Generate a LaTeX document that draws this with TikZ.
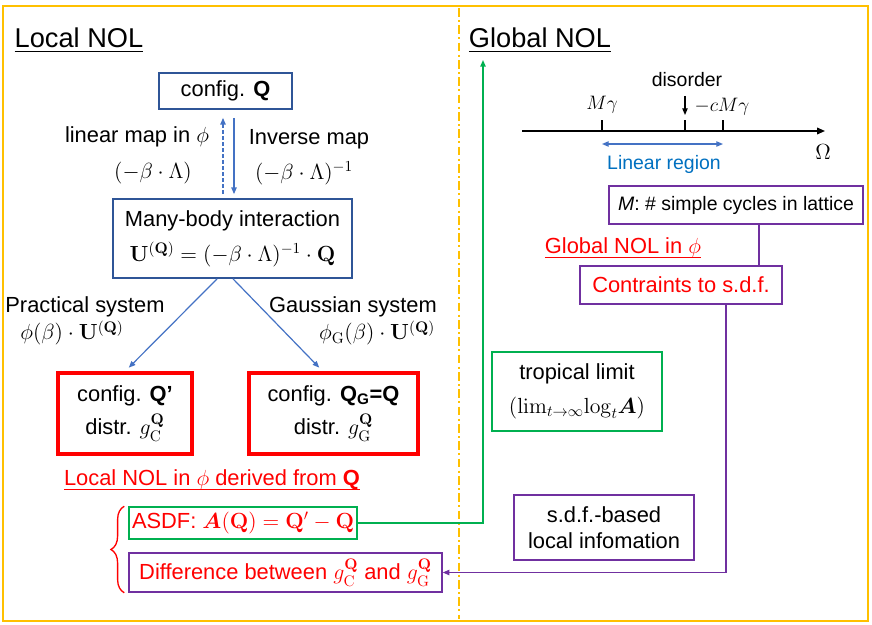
\RequirePackage{fix-cm}
\documentclass[tikz,border=0pt]{standalone}
\usepackage{amsmath}
\usepackage[no-math]{fontspec}
\setmainfont{Liberation Sans}
\definecolor{frameyellow}{RGB}{255,192,0}
\definecolor{boxblue}{RGB}{47,85,151}
\definecolor{arrowblue}{RGB}{68,114,196}
\definecolor{textblue}{RGB}{0,112,192}
\definecolor{pptred}{RGB}{255,0,0}
\definecolor{pptgreen}{RGB}{0,176,80}
\definecolor{pptpurple}{RGB}{112,48,160}
\usetikzlibrary{arrows.meta}
\usetikzlibrary{decorations.pathreplacing,calc}
% underline with a rule as thick as the slide's
\newcommand\ulined[1]{\setbox0\hbox{#1}\rlap{\rule[-3pt]{\wd0}{0.9pt}}\box0}

\begin{document}
\begin{tikzpicture}[x=0.75pt,y=0.75pt,yscale=-1,xscale=1,
	every node/.style={font=\fontsize{16.4}{19}\selectfont},
	sectiontitle/.style={font=\fontsize{20.4}{24}\selectfont},
	smalltext/.style={font=\fontsize{14.6}{17}\selectfont},
	bluebox/.style={draw=boxblue, line width=1.3pt, align=center, inner sep=0pt},
	redbox/.style={draw=pptred, line width=2.3pt, align=center, inner sep=0pt, font=\fontsize{16.4}{24.75}\selectfont},
	greenbox/.style={draw=pptgreen, line width=1.1pt, align=center, inner sep=0pt},
	purplebox/.style={draw=pptpurple, line width=1.1pt, align=center, inner sep=0pt},
	bluearrow/.style={draw=arrowblue, line width=0.9pt, -{Triangle[length=5pt,width=4pt]}},
	greenline/.style={draw=pptgreen, line width=1.1pt},
	purpleline/.style={draw=pptpurple, line width=1.1pt},
	]
	\useasboundingbox (0,0) rectangle (872,625);
	
	%Shape: Rectangle (frame)
	\draw [frameyellow, line width=2pt] (3,6) rectangle (868,621);
	%Straight Lines (divider)
	\draw [frameyellow, line width=1.5pt, dash pattern={on 6.5pt off 2.5pt on 1.5pt off 2.5pt}] (459,8) -- (459,619);
	
	% Text Node
	\node [sectiontitle] (loctitle) at (79,40) {\ulined{Local NOL}};
	% Text Node
	\node [sectiontitle] (globtitle) at (540,40) {\ulined{Global NOL}};
	
	%Shape: Rectangle
	\node [bluebox, minimum width=99.75pt, minimum height=27pt] (cfg) at (225.5,91) {config. \textbf{Q}};
	%Shape: Rectangle
	\node [bluebox, minimum width=179.25pt, minimum height=59.25pt, font=\fontsize{16.4}{26}\selectfont] (mbi) at (232.5,238.5) {Many-body interaction\\ $\mathbf{U}^{(\mathbf{Q})}=(-\beta\cdot\Lambda)^{-1}\cdot\mathbf{Q}$};
	
	%Straight Lines
	\coordinate (dashx) at (223,0);
	\coordinate (solidx) at (234,0);
	\draw [bluearrow, dash pattern={on 3pt off 1.5pt}, shorten <=3pt, shorten >=6pt] (dashx |- mbi.north) -- (dashx |- cfg.south);
	\draw [bluearrow, shorten <=6pt, shorten >=3pt] (solidx |- cfg.south) -- (solidx |- mbi.north);
	
	% Text Node
	\node (lmap) at (137,137) {linear map in $\phi$};
	% Text Node
	\node (lmat) at (153,173) {$(-\beta\cdot\Lambda)$};
	% Text Node
	\node (imap) at (309,139) {Inverse map};
	% Text Node
	\node (imat) at (304,173) {$(-\beta\cdot\Lambda)^{-1}$};
	% Text Node
	\node (prac) at (85,307) {Practical system};
	% Text Node
	\node (pracf) at (72,333) {$\phi(\beta)\cdot\mathbf{U}^{(\mathbf{Q})}$};
	% Text Node
	\node (gaus) at (353,307) {Gaussian system};
	% Text Node
	\node (gausf) at (377,333) {$\phi_{\mathrm{G}}(\beta)\cdot\mathbf{U}^{(\mathbf{Q})}$};
	
	%Shape: Rectangle
	\node [redbox, minimum width=100.5pt, minimum height=60.75pt] (cfgp) at (125,413.5) {config. \textbf{Q'}\\ distr. $g_{\mathrm{C}}^{\mathbf{Q}}$};
	%Shape: Rectangle
	\node [redbox, minimum width=126.75pt, minimum height=60.75pt] (cfgg) at (333.5,413.5) {config. \textbf{Q\textsubscript{G}=Q}\\ distr. $g_{\mathrm{G}}^{\mathbf{Q}}$};
	
	%Straight Lines
	\draw [bluearrow, shorten >=4pt] ([xshift=-11.6pt]mbi.south) -- (cfgp.north);
	\draw [bluearrow, shorten >=4pt] ([xshift=0.4pt]mbi.south) -- ([xshift=-7.9pt]cfgg.north);
	
	% Text Node
	\node [color=pptred] (locnol) at (212,480) {\ulined{Local NOL in $\phi$ derived from \textbf{Q}}};
	
	%Shape: Rectangle
	\node [greenbox, text=pptred, minimum width=171pt, minimum height=24pt] (asdf) at (243,523) {ASDF: $\boldsymbol{A}(\mathbf{Q})=\mathbf{Q}'-\mathbf{Q}$};
	%Shape: Rectangle
	\node [purplebox, text=pptred, minimum width=234.75pt, minimum height=29.25pt] (diff) at (285.5,572.5) {Difference between $g_{\mathrm{C}}^{\mathbf{Q}}$ and $g_{\mathrm{G}}^{\mathbf{Q}}$};
	%Shape: Brace
	\draw [pptred, line width=1pt, decorate, decoration={brace, amplitude=10pt}] ([xshift=-3pt]diff.south west) -- ([xshift=-3pt]asdf.north west);
	
	%Straight Lines
	\coordinate (gtop) at (483,60);
	\draw [greenline, -{Triangle[length=5pt,width=4pt]}] (asdf.east) -| (gtop);
	
	%Shape: Axis
	\coordinate (axs) at (522,131);
	\coordinate (axe) at (825,131);
	\draw [line width=1.2pt, -{Triangle[length=6pt,width=5pt]}] (axs) -- (axe);
	\foreach \t/\x in {tmy/602, tdis/685, tcmy/723} {
		\coordinate (\t) at (\x,131);
		\draw [line width=1.2pt] (\t) -- ++(0,-11);
	}
	% Text Node
	\node [smalltext] (my) at (602,105) {$M\gamma$};
	% Text Node
	\node [smalltext] (cmy) at (722,107) {$-cM\gamma$};
	% Text Node
	\node [smalltext] (dis) at (687,80) {disorder};
	\draw [line width=0.9pt, -{Triangle[length=5pt,width=4pt]}, shorten <=3pt] (tdis |- dis.south) -- ($(tdis)+(0,-16)$);
	% Text Node
	\node (omega) at (823,152) {$\Omega$};
	%Straight Lines
	\draw [arrowblue, line width=0.9pt, {Triangle[length=5pt,width=4pt]}-{Triangle[length=5pt,width=4pt]}] ($(tmy)+(0,13)$) -- ($(tcmy)+(0,13)$);
	% Text Node
	\node [smalltext, text=textblue] (linreg) at (664,164) {Linear region};
	
	%Shape: Rectangle
	\node [purplebox, smalltext, minimum width=190.5pt, minimum height=28.5pt] (mbox) at (736,205) {\textit{M}: \# simple cycles in lattice};
	% Text Node
	\node [color=pptred] (globnol) at (623,248) {\ulined{Global NOL in $\phi$}};
	%Shape: Rectangle
	\node [purplebox, text=pptred, minimum width=151.5pt, minimum height=28.5pt] (cons) at (681,285) {Contraints to s.d.f.};
	\coordinate (mx) at (759,0);
	\draw [purpleline] (mx |- mbox.south) -- (mx |- cons.north);
	
	%Shape: Rectangle
	\node [greenbox, minimum width=127.5pt, minimum height=59.25pt, font=\fontsize{16.4}{25.5}\selectfont] (trop) at (577,391.5) {tropical limit\\ $(\mathrm{lim}_{t\to\infty}\mathrm{log}_t\boldsymbol{A})$};
	%Shape: Rectangle
	\node [purplebox, minimum width=135pt, minimum height=48.75pt, font=\fontsize{16.4}{19.5}\selectfont] (sdf) at (604,527.5) {s.d.f.-based\\ local infomation};
	
	%Straight Lines
	\coordinate (px) at (726,0);
	\draw [purpleline, -{Triangle[length=5pt,width=4pt]}] (px |- cons.south) |- (diff.east);
	
\end{tikzpicture}
\end{document}
